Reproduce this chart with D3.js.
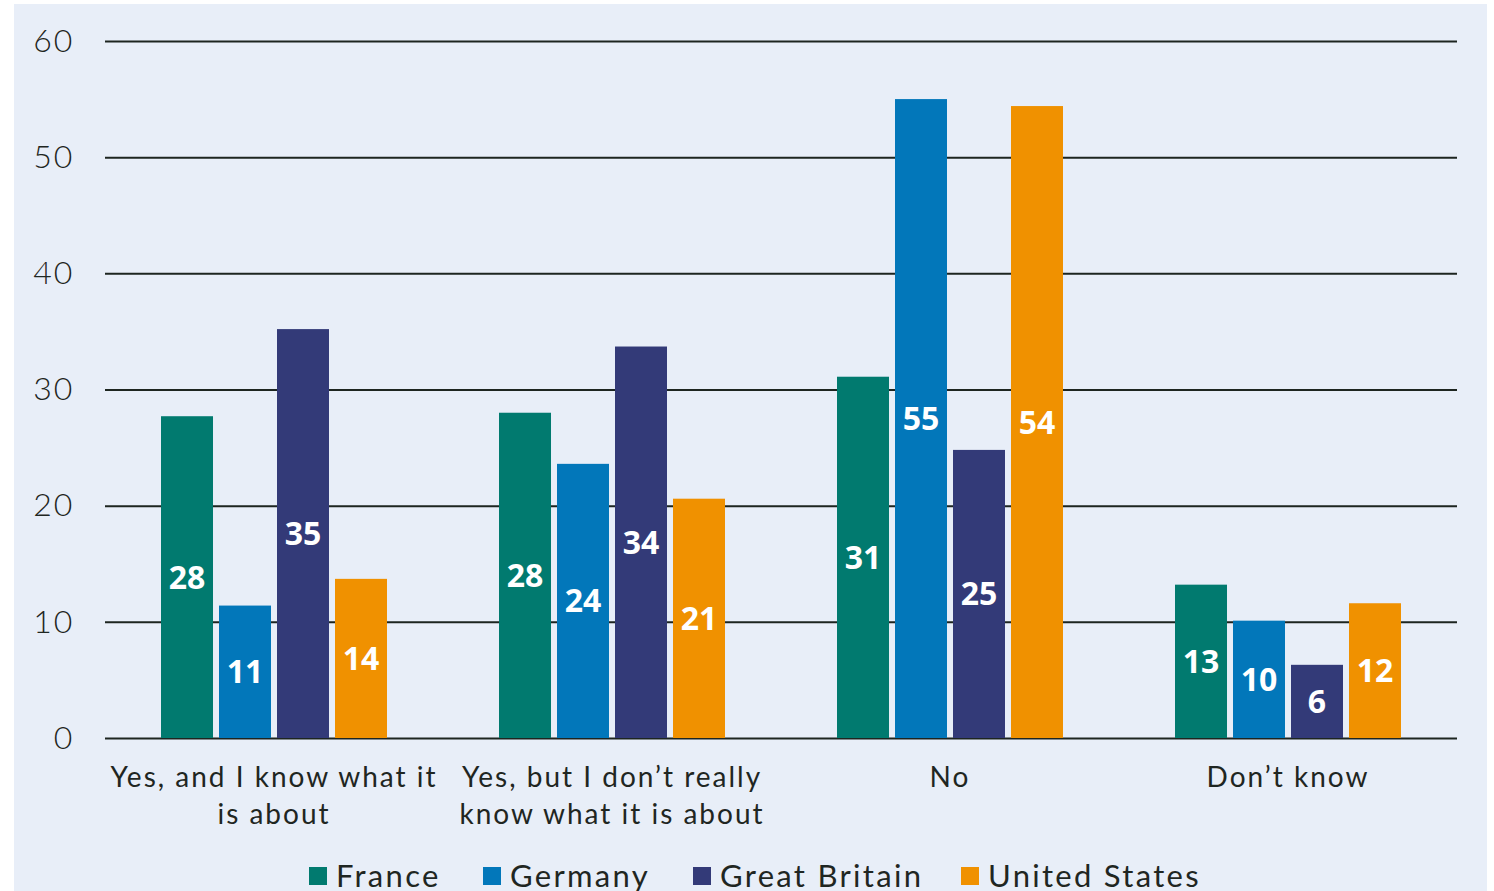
<!DOCTYPE html>
<html>
<head>
<meta charset="utf-8">
<script src="https://cdn.jsdelivr.net/npm/d3@7"></script>
<style>
  html, body { margin: 0; padding: 0; background: #ffffff; }
  svg { display: block; }
</style>
</head>
<body>
<svg id="chart" width="1494" height="891"></svg>
<script>
// Survey answers per country (percent)
const categories = [
  ["Yes, and I know what it", "is about"],
  ["Yes, but I don\u2019t really", "know what it is about"],
  ["No"],
  ["Don\u2019t know"]
];
const seriesNames = ["France", "Germany", "Great Britain", "United States"];
const france       = [27.7, 28.0, 31.1, 13.2];
const germany      = [11.4, 23.6, 55.0, 10.1];
const greatBritain = [35.2, 33.7, 24.8, 6.3];
const unitedStates = [13.7, 20.6, 54.4, 11.6];
const yTicks = [0, 10, 20, 30, 40, 50, 60];
const colors = ["#017a6f", "#0277ba", "#333a78", "#f09100"];

const seriesValues = [france, germany, greatBritain, unitedStates];
const catKeys = categories.map(c => c.join(" "));

const svg = d3.select("#chart");
const plotLeft = 105, plotRight = 1457, plotTop = 41, plotBottom = 738;

// panel background
svg.append("rect")
  .attr("x", 14).attr("y", 4)
  .attr("width", 1473).attr("height", 887)
  .attr("fill", "#e8eef8");

const y = d3.scaleLinear().domain([0, 60]).range([plotBottom, plotTop]);
const x0 = d3.scaleBand().domain(catKeys).range([plotLeft, plotRight])
  .paddingInner(0.3314).paddingOuter(0.1657);
const x1 = d3.scaleBand().domain(seriesNames).range([0, x0.bandwidth()])
  .paddingInner(6 / 58).paddingOuter(0);

// gridlines and tick labels
const yAxis = d3.axisLeft(y).tickValues(yTicks).tickSize(-(plotRight - plotLeft)).tickPadding(31);
const gAxis = svg.append("g").attr("transform", `translate(${plotLeft},0)`).call(yAxis);
gAxis.select(".domain").remove();
gAxis.selectAll(".tick line").attr("stroke", "#1d2520").attr("stroke-width", 2);
gAxis.selectAll(".tick text")
  .attr("fill", "#1f2622")
  .style("font-family", "Lato, 'Open Sans', sans-serif")
  .style("font-size", "32px")
  .style("font-weight", 300)
  .style("letter-spacing", "1.8px");

// bars
const groups = svg.append("g").selectAll("g")
  .data(catKeys)
  .join("g")
  .attr("transform", d => `translate(${x0(d)},0)`);

const cells = groups.selectAll("g.bar")
  .data((d, i) => seriesNames.map((s, j) => ({ series: s, value: seriesValues[j][i], color: colors[j] })))
  .join("g").attr("class", "bar");

cells.append("rect")
  .attr("x", d => x1(d.series))
  .attr("y", d => y(d.value))
  .attr("width", x1.bandwidth())
  .attr("height", d => y(0) - y(d.value))
  .attr("fill", d => d.color);

cells.append("text")
  .attr("x", d => x1(d.series) + x1.bandwidth() / 2)
  .attr("y", d => (y(d.value) + y(0)) / 2)
  .attr("dy", "0.36em")
  .attr("text-anchor", "middle")
  .attr("fill", "#ffffff")
  .style("font-family", "'Open Sans', Lato, sans-serif")
  .style("font-size", "32px")
  .style("font-weight", 700)
  .text(d => d3.format(".0f")(d.value));

// category labels
const catLabels = svg.append("g").selectAll("text")
  .data(categories)
  .join("text")
  .attr("x", (d, i) => x0(catKeys[i]) + x0.bandwidth() / 2)
  .attr("y", 787)
  .attr("text-anchor", "middle")
  .attr("fill", "#1f2622")
  .style("font-family", "Lato, 'Open Sans', sans-serif")
  .style("font-size", "28px")
  .style("letter-spacing", "2px");
catLabels.selectAll("tspan")
  .data(d => d)
  .join("tspan")
  .attr("x", function () { return d3.select(this.parentNode).attr("x"); })
  .attr("dy", (d, i) => i === 0 ? 0 : 37)
  .text(d => d);

// legend
const legendX = [309, 483, 693, 961];
const legend = svg.append("g").selectAll("g")
  .data(seriesNames)
  .join("g")
  .attr("transform", (d, i) => `translate(${legendX[i]},867)`);
legend.append("rect")
  .attr("width", 18).attr("height", 18)
  .attr("fill", (d, i) => colors[i]);
legend.append("text")
  .attr("x", 27).attr("y", 9)
  .attr("dy", "0.36em")
  .attr("fill", "#1f2622")
  .style("font-family", "Lato, 'Open Sans', sans-serif")
  .style("font-size", "31px")
  .style("letter-spacing", "2.3px")
  .text(d => d);
</script>
</body>
</html>
